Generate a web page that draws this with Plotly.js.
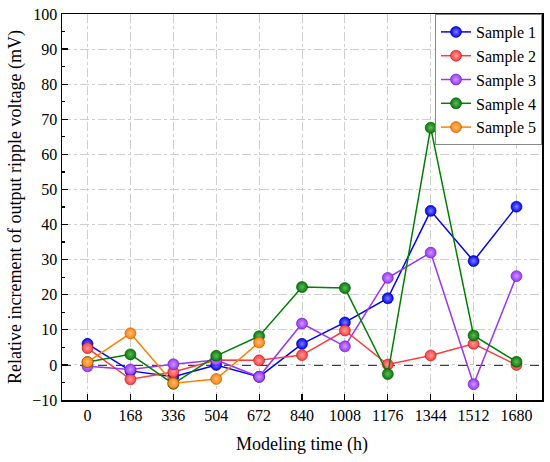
<!DOCTYPE html>
<html>
<head>
<meta charset="utf-8">
<script src="https://cdn.plot.ly/plotly-3.0.1.min.js"></script>
<style>html,body{margin:0;padding:0;background:#fff}#chart{width:550px;height:462px}</style>
</head>
<body>
<div id="chart"></div>
<script>
const hours = [0, 168, 336, 504, 672, 840, 1008, 1176, 1344, 1512, 1680];
const sample1 = [6.0, -1.7, -3.4, 0.0, -3.4, 6.0, 12.1, 19.0, 43.9, 29.6, 45.1];
const sample2 = [4.8, -4.1, -2.0, 1.4, 1.3, 2.8, 9.8, 0.1, 2.7, 6.0, 0.0];
const sample3 = [-0.4, -1.3, 0.2, 1.4, -3.4, 11.8, 5.3, 24.8, 32.0, -5.5, 25.3];
const sample4 = [0.8, 3.0, -5.4, 2.6, 8.2, 22.2, 21.9, -2.6, 67.6, 8.4, 0.9];
const sample5 = [0.8, 9.0, -5.2, -4.0, 6.4];
const sampleNames = ['Sample 1', 'Sample 2', 'Sample 3', 'Sample 4', 'Sample 5'];
const xTickLabels = ['0','168','336','504','672','840','1008','1176','1344','1512','1680'];

const colors = ['#0000FF', '#FF3B3B', '#9933FF', '#008000', '#FF8000'];
const highlight = ['#8080ff', '#ff9f9f', '#cc99ff', '#66b366', '#ffbf80'];
const edge = ['#00008a', '#b01818', '#6a1fb0', '#004d00', '#b35500'];
const series = [sample1, sample2, sample3, sample4, sample5];

const traces = series.map((ys, i) => ({
  x: hours.slice(0, ys.length),
  y: ys,
  name: sampleNames[i],
  type: 'scatter',
  mode: 'lines+markers',
  line: {color: colors[i], width: 1.5},
  marker: {
    size: 11,
    color: colors[i],
    line: {color: edge[i], width: 0.6},
    gradient: {type: 'radial', color: highlight[i]}
  }
}));

const font = 'Liberation Serif';
const layout = {
  width: 550, height: 462,
  margin: {l: 62, r: 8, t: 14, b: 62},
  paper_bgcolor: '#fff', plot_bgcolor: '#fff',
  font: {family: font, size: 16, color: '#000'},
  showlegend: true,
  legend: {
    x: 1, xanchor: 'right', y: 1, yanchor: 'top',
    bgcolor: '#fff', bordercolor: '#888', borderwidth: 1,
    font: {family: font, size: 16, color: '#000'},
    tracegroupgap: 0
  },
  xaxis: {
    range: [-100, 1780],
    tickmode: 'array', tickvals: hours, ticktext: xTickLabels,
    ticks: 'inside', ticklen: 6, tickwidth: 1.2, tickcolor: '#000',
    showline: true, linecolor: '#000', linewidth: 1.5, mirror: true,
    showgrid: true, gridcolor: '#cfcfcf', griddash: 'dashdot', gridwidth: 1,
    zeroline: false,
    tickfont: {family: font, size: 16},
    title: {text: 'Modeling time (h)', font: {family: font, size: 18}, standoff: 14}
  },
  yaxis: {
    range: [-10, 100],
    tickmode: 'linear', tick0: -10, dtick: 10,
    ticks: 'inside', ticklen: 6, tickwidth: 1.2, tickcolor: '#000',
    minor: {dtick: 5, ticks: 'inside', ticklen: 3, tickcolor: '#000', showgrid: false},
    showline: true, linecolor: '#000', linewidth: 1.5, mirror: true,
    showgrid: true, gridcolor: '#cfcfcf', griddash: 'dashdot', gridwidth: 1,
    zeroline: false,
    tickfont: {family: font, size: 16},
    title: {text: 'Relative increment of output ripple voltage (mV)', font: {family: font, size: 18}, standoff: 6}
  },
  shapes: [{
    type: 'line', xref: 'paper', x0: 0, x1: 1, yref: 'y', y0: 0, y1: 0,
    line: {color: '#000', width: 1.5, dash: 'dash'}, layer: 'below'
  }]
};

Plotly.newPlot('chart', traces, layout, {displayModeBar: false, staticPlot: true});
</script>
</body>
</html>
